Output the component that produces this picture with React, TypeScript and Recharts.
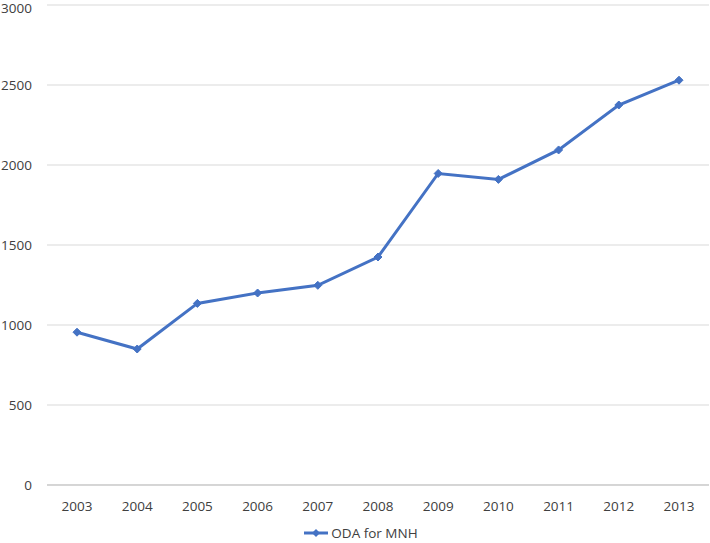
import { LineChart, Line, XAxis, YAxis, CartesianGrid, Legend } from "recharts";

const years = ["2003", "2004", "2005", "2006", "2007", "2008", "2009", "2010", "2011", "2012", "2013"];
const odaForMnh = [955, 850, 1135, 1200, 1248, 1425, 1947, 1910, 2094, 2375, 2530];
const yTicks = [0, 500, 1000, 1500, 2000, 2500, 3000];

const data = years.map((year, i) => ({ year, oda: odaForMnh[i] }));

const BLUE = "#4472C4";
const FONT = "'Open Sans', 'Liberation Sans', sans-serif";
const TEXT = "#404040";

const Diamond = (props: any) => {
  const { cx, cy, index } = props;
  if (cx == null || cy == null) return null;
  const r = 4;
  return (
    <polygon
      key={`d-${index}`}
      points={`${cx},${cy - r} ${cx + r},${cy} ${cx},${cy + r} ${cx - r},${cy}`}
      fill={BLUE}
      stroke={BLUE}
    />
  );
};

const LegendContent = () => (
  <div style={{ height: 20, display: "flex", justifyContent: "center", alignItems: "center", fontFamily: FONT, fontSize: 13.5, color: TEXT, paddingLeft: 12 }}>
    <svg width={26} height={10} style={{ marginRight: 2 }}>
      <line x1={1} y1={5} x2={25} y2={5} stroke={BLUE} strokeWidth={3} />
      <polygon points="13,1 17,5 13,9 9,5" fill={BLUE} />
    </svg>
    <span>ODA for MNH</span>
  </div>
);

export default function App() {
  return (
    <div style={{ position: "absolute", left: 0, top: 0, width: 710, height: 543, background: "#fff" }}>
      <LineChart width={710} height={543} data={data} margin={{ top: 5, right: 1, left: 0, bottom: 0 }}>
        <CartesianGrid vertical={false} stroke="#d9d9d9" strokeWidth={1} />
        <XAxis
          dataKey="year"
          padding={{ left: 30, right: 30 }}
          axisLine={{ stroke: "#bfbfbf" }}
          tickLine={false}
          tickSize={0}
          tickMargin={16}
          height={38}
          tick={{ fill: TEXT, fontSize: 13.5, fontFamily: FONT }}
        />
        <YAxis
          domain={[0, 3000]}
          ticks={yTicks}
          axisLine={false}
          tickLine={false}
          tickSize={0}
          tickMargin={15}
          width={47}
          tick={{ fill: TEXT, fontSize: 13.5, fontFamily: FONT }}
        />
        <Legend verticalAlign="bottom" content={<LegendContent />} />
        <Line
          type="linear"
          dataKey="oda"
          name="ODA for MNH"
          stroke={BLUE}
          strokeWidth={3}
          dot={<Diamond />}
          activeDot={false}
          isAnimationActive={false}
        />
      </LineChart>
    </div>
  );
}
